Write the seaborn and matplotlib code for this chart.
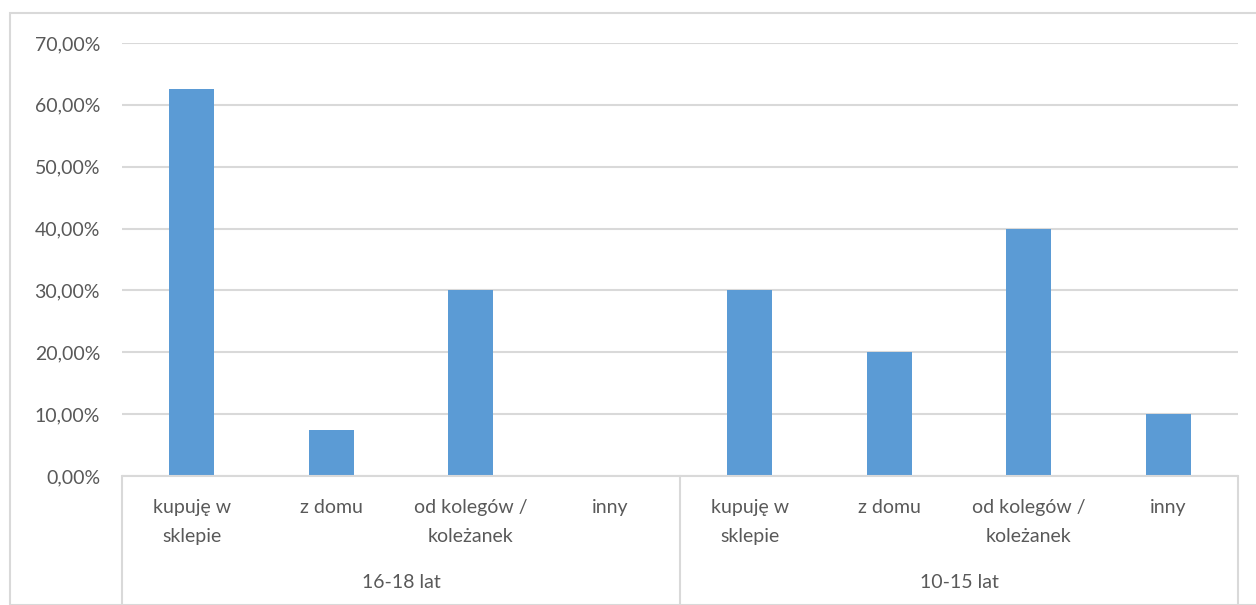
import matplotlib
matplotlib.use("Agg")
import matplotlib.pyplot as plt
import matplotlib.ticker as mticker
from matplotlib.patches import Rectangle
import seaborn as sns
import pandas as pd

groups = ["16-18 lat", "10-15 lat"]
subcats = ["kupuję w\nsklepie", "z domu", "od kolegów /\nkoleżanek", "inny"]
values_16_18 = [0.625, 0.075, 0.30, 0.0]
values_10_15 = [0.30, 0.20, 0.40, 0.10]
yticks = [0.0, 0.1, 0.2, 0.3, 0.4, 0.5, 0.6, 0.7]

keys, labels, vals = [], [], []
for g, vs in zip(groups, [values_16_18, values_10_15]):
    for s, v in zip(subcats, vs):
        keys.append(f"{g}|{s}")
        labels.append(s)
        vals.append(v)
df = pd.DataFrame({"key": keys, "value": vals})

sns.set_theme(style="white")
plt.rcParams["font.family"] = ["Lato", "DejaVu Sans"]

TEXT = "#595959"
GRID = "#D9D9D9"
BAR = "#5B9BD5"
FS = 14

fig = plt.figure(figsize=(12.56, 6.05), dpi=100)
fig.patches.append(Rectangle((10 / 1256, 0), 1.2, 1 - 13 / 605, transform=fig.transFigure,
                             fill=False, edgecolor=GRID, linewidth=1.5))
ax = fig.add_axes([122 / 1256, 1 - 476 / 605, (1238 - 122) / 1256, (476 - 43) / 605])

sns.barplot(data=df, x="key", y="value", order=keys, color=BAR, width=0.32,
            saturation=1, ax=ax, edgecolor="none")

ax.set_ylim(0, 0.7)
ax.set_xlim(-0.5, len(keys) - 0.5)
ax.set_yticks(yticks)
ax.yaxis.set_major_formatter(mticker.FuncFormatter(lambda v, p: f"{v*100:.2f}%".replace(".", ",")))
ax.grid(axis="y", color=GRID, linewidth=1.5)
ax.set_axisbelow(True)
for sp in ax.spines.values():
    sp.set_visible(False)
ax.tick_params(axis="y", length=0, pad=15.8, labelsize=FS, labelcolor=TEXT)
ax.set_xticks(range(len(keys)))
ax.set_xticklabels([])
ax.tick_params(axis="x", length=0)
ax.set_xlabel("")
ax.set_ylabel("")

h_ax = 476 - 43
def ay(py):
    return -(py - 476) / h_ax

trans = ax.get_xaxis_transform()
ax.plot([-0.5, len(keys) - 0.5], [0, 0], transform=trans, color=GRID, lw=1.5, clip_on=False)
for xb in [-0.5, 3.5, 7.5]:
    ax.plot([xb, xb], [0, ay(610)], transform=trans, color=GRID, lw=1.5, clip_on=False)

for i, lab in enumerate(labels):
    ax.text(i, ay(499), lab, transform=trans, ha="center", va="top", fontsize=FS,
            color=TEXT, linespacing=1.85)
for gi, g in enumerate(groups):
    ax.text(gi * 4 + 1.5, ay(583), g, transform=trans, ha="center", va="center",
            fontsize=FS, color=TEXT)

fig.savefig("out.png", dpi=100)
